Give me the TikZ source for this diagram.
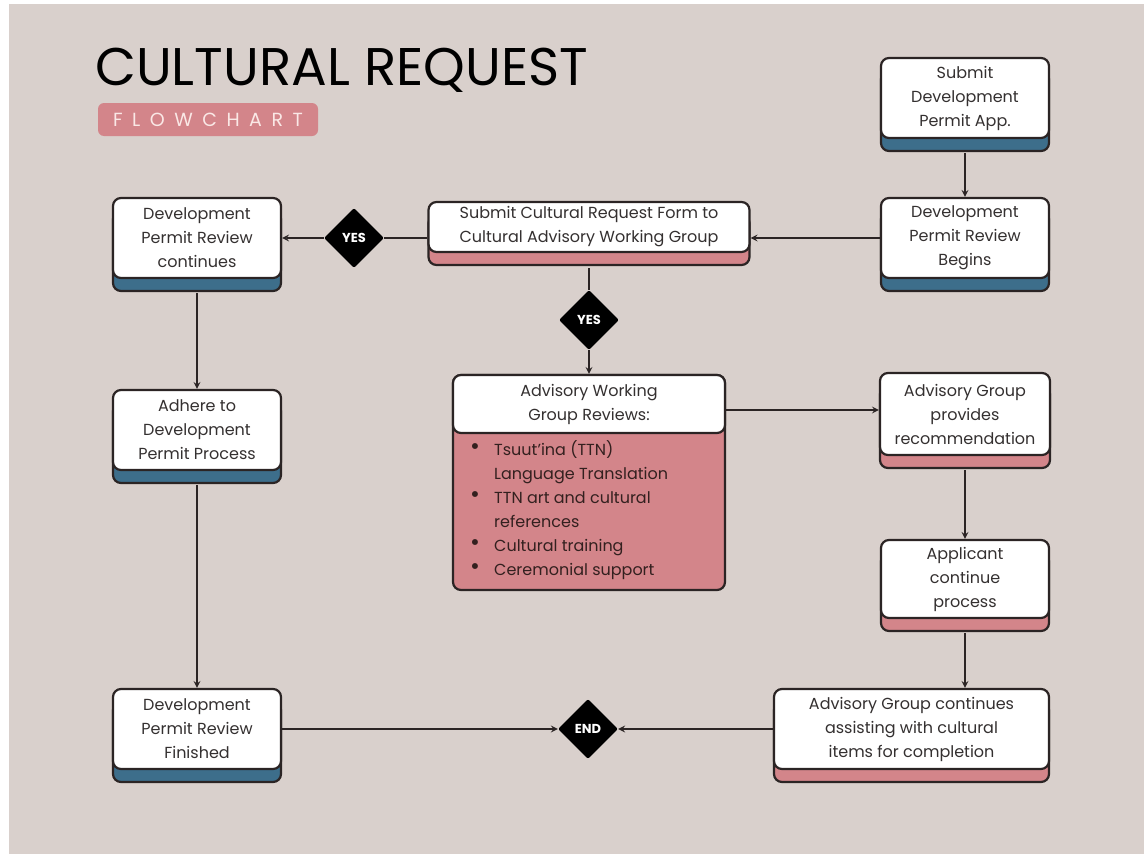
\documentclass[tikz,border=0pt]{standalone}
\usepackage{fontspec}
\setmainfont{Poppins}
\usetikzlibrary{shapes.geometric, shadows, arrows}

\definecolor{bgsand}{HTML}{D9D0CC}
\definecolor{stripblue}{HTML}{3D6E8B}
\definecolor{strippink}{HTML}{D3858A}
\definecolor{inkdark}{HTML}{2B2424}
\definecolor{textgrey}{HTML}{343030}
\definecolor{listdark}{HTML}{33201F}
\definecolor{badgetext}{HTML}{FAE8E6}
\newcommand{\boxfont}{\fontsize{16}{24}\selectfont}
\newcommand{\itemdot}{\makebox[24pt][l]{\raisebox{0.5pt}{\scalebox{1.5}{\textbullet}}}}

\begin{document}
\begin{tikzpicture}[
    x=1pt, y=-1pt,
    >=stealth,
    flow/.style={->, line width=2pt, draw=inkdark},
    link/.style={line width=2pt, draw=inkdark},
    box/.style={rectangle, rounded corners=8pt, draw=inkdark, line width=2.2pt, fill=white,
      align=center, text=textgrey, font=\boxfont, inner sep=2pt,
      minimum width=168pt, minimum height=80pt},
    bluebox/.style={box, general shadow={fill=stripblue, draw=inkdark, line width=2.2pt, shadow yshift=-13pt}},
    pinkbox/.style={box, general shadow={fill=strippink, draw=inkdark, line width=2.2pt, shadow yshift=-13pt}},
    decision/.style={diamond, fill=black, inner sep=0pt, minimum width=60pt, minimum height=60pt,
      rounded corners=2pt, text=white, font=\bfseries\fontsize{13}{15}\selectfont}
  ]

  % --- FUNDO ---
  \useasboundingbox (0,0) rectangle (1144,854);
  \fill[white] (0,0) rectangle (1144,854);
  \fill[bgsand] (9,4) rectangle (1144,854);

  % --- TITULO ---
  \node[anchor=base west, inner sep=0pt, text=black, font=\fontsize{53}{60}\selectfont] (title) at (95,85) {CULTURAL REQUEST};
  \node[fill=strippink, rounded corners=6pt, minimum width=220pt, minimum height=33pt, inner sep=0pt,
    text=badgetext, font=\fontsize{19}{20}\selectfont] (badge) at (208,119.5) {\addfontfeature{LetterSpace=50}FLOWCHART};

  % --- POSICIONAMENTO ---
  \node[bluebox] (submit) at (965,98) {Submit\\Development\\Permit App.};
  \node[bluebox] (begins) at (965,238) {Development\\Permit Review\\Begins};
  \node[pinkbox, minimum width=321pt, minimum height=50pt] (form) at (589,227) {Submit Cultural Request Form to\\Cultural Advisory Working Group};
  \node[bluebox] (cont) at (197,238) {Development\\Permit Review\\continues};
  \node[bluebox] (adhere) at (197,430) {Adhere to\\Development\\Permit Process};
  \node[bluebox] (finished) at (197,729) {Development\\Permit Review\\Finished};

  \node[decision] (yesL) at (354,238) {YES};
  \node[decision] (yesM) at (589,320) {YES};
  \node[decision] (endD) at (588,729) {END};

  % caixa com lista
  \node[box, fill=strippink, minimum width=272pt, minimum height=215pt] (awg) at (589,482.5) {};
  \node[box, minimum width=272pt, minimum height=58pt] (awgHead) at (589,404) {Advisory Working\\Group Reviews:};
  \node[anchor=north west, align=left, inner sep=0pt, text=listdark, font=\boxfont] (awgList) at (470,440)
    {\itemdot Tsuut’ina (TTN)\\
     \hspace*{24pt}Language Translation\\
     \itemdot TTN art and cultural\\
     \hspace*{24pt}references\\
     \itemdot Cultural training\\
     \itemdot Ceremonial support};

  \node[pinkbox, minimum width=170pt, minimum height=82pt] (provides) at (965,414) {Advisory Group\\provides\\recommendation};
  \node[pinkbox, minimum height=78pt] (applicant) at (965,579) {Applicant\\continue\\process};
  \node[pinkbox, minimum width=275pt] (assist) at (911.5,729) {Advisory Group continues\\assisting with cultural\\items for completion};

  % --- TRANSICOES ---
  \draw[flow] ([yshift=-14pt]submit.south) -- (begins);
  \draw[flow] (begins) -- (begins -| form.east);
  \draw[link] (yesL -| form.west) -- (yesL);
  \draw[flow] (yesL) -- (cont);
  \draw[link] ([yshift=-15pt]form.south) -- (yesM);
  \draw[flow] (yesM) -- (awg);
  \draw[flow] ([yshift=-6pt]awgHead.east) -- ([yshift=-6pt]awgHead.east -| provides.west);
  \draw[flow] ([yshift=-14pt]provides.south) -- (applicant);
  \draw[flow] ([yshift=-14pt]applicant.south) -- (applicant.south |- assist.north);
  \draw[flow] (assist) -- (endD);
  \draw[flow] ([yshift=-14pt]cont.south) -- (adhere);
  \draw[flow] ([yshift=-14pt]adhere.south) -- (finished);
  \draw[flow] (finished) -- (endD);

\end{tikzpicture}
\end{document}
